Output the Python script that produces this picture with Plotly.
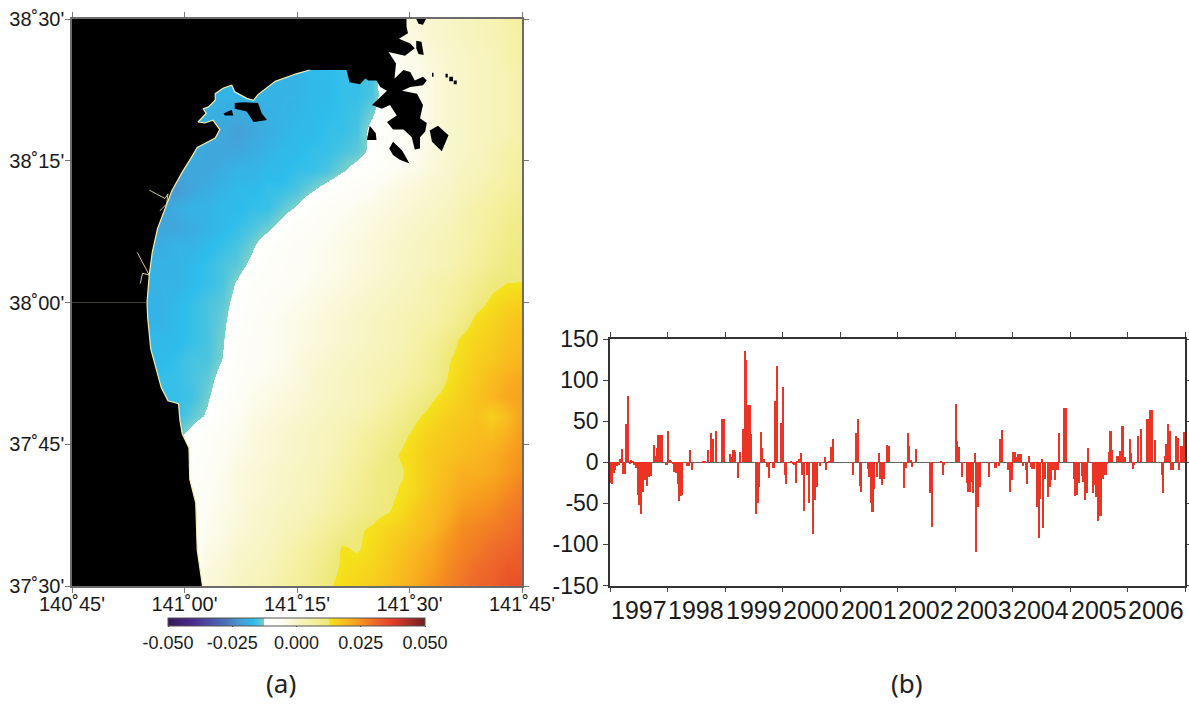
import plotly.graph_objects as go

# ---------- Panel (a) data ----------
# Grid: arc-minutes east of 140 deg 45', arc-minutes north of 37 deg 30'
lon_min = list(range(0, 62, 2))
L = -16
sst_rows = [
 [L,L,L,L,L,L,L,L,L,L,L,L,L,L,L,L,L,L,L,L,L,-6,-3,-2,-1,0,1,2,3,5,7],
 [L,L,L,L,L,L,L,L,L,L,L,L,L,L,L,L,L,L,L,L,L,-7,-4,-3,-1,0,1,2,3,4,6],
 [L,L,L,L,L,L,L,L,L,L,L,L,L,L,L,L,L,L,L,L,L,-8,-5,-4,-2,-1,0,1,2,4,6],
 [L,L,L,L,L,L,L,L,L,-17,-17,-17,-18,-18,-18,-18,-17,-17,-16,-16,-15,-8,-6,-5,-3,-1,0,1,2,3,5],
 [L,L,L,L,L,L,L,L,L,-18,-18,-18,-18,-18,-18,-18,-17,-17,-16,-16,-15,-9,-7,-5,-3,-1,0,1,2,3,5],
 [-18,-18,-18,-18,-18,-18,-18,-18,-18,-19,-20,-21,-20,-19,-18,-17,-17,-16,-16,-15,-11,-9,-8,-6,-3,-1,0,1,2,3,5],
 [-18,-18,-18,-18,-18,-18,-18,-18,-19,-20,-20,-20,-19,-18,-17,-17,-16,-16,-15,-14,-11.5,-9,-7,-5,-3,-1,0,1,3,5,6],
 [-18,-18,-18,-18,-18,-18,-19,-20,-20,-20,-19,-18,-18,-17,-17,-16,-16,-15,-13,-11,-9,-7,-5,-4,-2,-1,1,2,3,5,7],
 [-20,-20,-20,-20,-20,-20,-21,-22,-20,-19,-18,-17,-17,-16,-16,-15,-13,-11,-9,-7,-6,-4,-3,-2,-1,0,2,3,5,6,8],
 [-20,-20,-20,-20,-20,-20,-20,-19,-18,-18,-17,-17,-16,-16,-14,-12,-9,-7,-6,-5,-4,-3,-2,-1,0,1,3,5,6,8,9],
 [-20,-20,-20,-20,-20,-20,-20,-20,-19,-18,-17,-16,-15,-13.5,-11,-8,-7,-6,-5,-4,-3,-2,-1,0,1,2,4,5,7,9,10],
 [-19,-19,-19,-19,-19,-19,-19,-18,-18,-17,-16,-15,-13,-10,-8,-7,-6,-5,-4,-3,-2,-1,0,1,2,3,4,6,8,10,11],
 [-18,-18,-18,-18,-18,-18,-18,-18,-17,-16,-15,-14,-11.5,-9,-8,-7,-6,-5,-4,-3,-2,-1,0,1,2,3,5,7,9,11,12],
 [-18,-18,-18,-18,-18,-18,-18,-18,-17,-16,-15,-12,-9,-8,-7,-6,-5,-4,-3,-2,-1,0,1,2,4,5,7,9,11.5,12.6,12.6],
 [-18,-18,-18,-18,-18,-18,-18,-17,-16,-15,-14,-11,-8,-7,-6,-5,-4,-3,-2,-1,0,1,2,3,4,6,8,11,13.5,15,16],
 [-18,-18,-18,-18,-18,-18,-18,-17,-16,-15,-13.5,-10,-8,-6,-5,-4,-3,-2,-1,0,1,2,3,4,5,7,10,14,15,17,18],
 [-17,-17,-17,-17,-17,-17,-17,-17,-16,-15,-13,-9,-7,-6,-5,-4,-3,-2,-1,0,1,2,3,5,7,10,13.5,15,16,18,19],
 [-17,-17,-17,-17,-17,-17,-17,-16,-15,-15,-12.5,-9,-7,-6,-5,-3,-2,-1,0,1,2,3,4,6,8,12,14,16,17,19,20],
 [-16,-16,-16,-16,-16,-16,-16,-16,-15,-14,-11,-8,-6,-5,-4,-3,-1,0,1,2,3,4,5,7,9,12.5,15,17,19,21,22],
 [-16,-16,-16,-16,-16,-16,-16,-16,-15.5,-13,-10,-7,-5,-4,-3,-2,-1,0,1,2,3,5,7,9,12,14,16,18,20,22,23],
 [-16,-16,-16,-16,-16,-16,-16,-16,-14,-12,-9,-6,-4,-3,-2,-1,0,1,2,3,5,7,9,12,14,16,17,18,16,19,23],
 [-14,-14,-14,-14,-14,-14,-14,-13.5,-11,-8,-6,-5,-3,-2,-1,0,1,2,3,5,7,9,11.5,14,16,17,18,19,19,21,24],
 [-10,-10,-10,-10,-10,-10,-10,-10,-10,-8,-6,-4,-3,-2,-1,0,1,2,4,6,8,11,13,15,17,18,19,20,21,23,25],
 [-9,-9,-9,-9,-9,-9,-9,-9,-9,-7,-5,-3,-2,-1,0,1,2,3,5,7,10,11.5,12.2,15,17,19,21,21,22,24,26],
 [-8,-8,-8,-8,-8,-8,-8,-8,-8,-6,-5,-3,-2,-1,0,1,2,4,6,8,10,11.5,13,15,18,20,22,23,24,26,28],
 [-8,-8,-8,-8,-8,-8,-8,-8,-8,-6,-4,-3,-1,0,1,2,3,5,7,9,11,12,14,17,19,21,24,25,26,28,29],
 [-8,-8,-8,-8,-8,-8,-8,-8,-8,-5,-4,-2,-1,0,2,3,5,7,9,12,13,15,16,18,20,23,26,27,28,29,31],
 [-8,-8,-8,-8,-8,-8,-8,-8,-8,-4,-3,-1,0,1,3,5,7,9,13,12,14,16,18,20,22,25,27,28,30,31,32],
 [-8,-8,-8,-8,-8,-8,-8,-8,-8,-3,-2,0,1,2,4,6,8,11,13,14,15,17,19,21,23,26,28,30,31,33,33],
 [-7,-7,-7,-7,-7,-7,-7,-7,-7,-2,-1,1,2,3,5,7,9,12,13.5,15,16,18,20,22,25,27,29,31,32,34,35],
]
lat_rows = [60, 58, 56, 54, 52, 48, 46, 44, 42, 40, 38, 36, 34, 32, 30, 28, 26, 24, 22, 20, 18, 16, 14, 12, 10, 8, 6, 4, 2, 0]

coast_north_x = [44.6,44.6,44.8,43.6,45.1,45.7,44.4,42.2,43.2,43.0,44.2,45.1,45.7,46.8,47.3,46.8,45.1,44.0,46.0,46.8,46.4,47.3,47.1,46.4,46.4,45.7,45.3,44.2,42.8,42.0,43.3,42.4,41.3,40.0,42.0,41.1,40.6,39.5,39.1,38.4,37.0,36.6]
coast_north_y = [60,59.2,58.5,57.9,57.4,56.9,56.1,56.5,55.3,53.7,54.6,54.4,53.5,53.9,53.5,53.0,52.8,52.4,52.1,50.9,49.5,49.0,48.1,47.5,46.3,46.2,47.5,48.3,48.3,49.1,49.8,50.9,50.5,50.9,52.4,52.8,53.5,53.5,53.7,53.1,53.3,54.6]
coast_south_x = [31.7,29.9,27.1,24.8,24.2,23.3,21.7,21.3,20.2,19.1,19.1,18.2,17.5,17.9,16.8,17.7,18.8,19.7,19.1,18.4,16.7,15.8,14.7,13.3,12.4,11.4,10.7,10.3,10.0,10.1,10.5,11.2,11.9,12.8,14.2,14.4,14.7,15.6,15.7,16.5,16.7,17.4]
coast_south_y = [54.6,54.2,53.4,52.0,51.4,51.6,52.3,53.0,52.7,52.1,51.4,50.7,50.5,50.0,49.1,49.0,49.3,48.3,47.4,47.1,46.4,45.2,43.8,41.8,39.9,37.8,35.3,32.9,30.0,28.3,25.1,23.0,21.0,19.6,19.3,17.5,16.1,14.6,11.3,8.8,3.8,0]
island_x = [21.7,22.8,24.8,25.3,26.0,24.2,23.3,21.7,None,20.2,21.3,21.5,20.4,None,47.7,48.8,50.2,49.3,48.0,None,39.3,39.7,40.5,40.6,None,42.3,42.8,44.0,45.0,43.7,42.8,None,45.9,46.6,46.9,46.2,45.9,None,45.9,47.2,46.8,46.2,None,50.3,50.8,50.8,50.3,None,50.9,51.3,51.3,50.9,None,49.8,50.1,50.1,49.8,None,48.0,48.2,48.2,48.0]
island_y = [51.1,51.2,51.1,50.0,49.3,49.1,50.2,50.5,None,50.0,50.4,49.8,49.8,None,48.2,48.7,47.7,46.0,47.0,None,47.2,48.7,47.9,47.2,None,46.3,47.0,46.1,44.7,45.1,45.6,None,57.7,57.6,56.2,56.3,56.9,None,60,60,59.4,59.5,None,53.9,53.9,53.4,53.4,None,53.5,53.5,53.1,53.1,None,54.2,54.2,53.8,53.8,None,54.3,54.3,53.9,53.9]
river_x = [10.3,12.4,12.8,12.6,11.7,None,8.7,9.6,10.3,9.4,9.1]
river_y = [41.9,41.0,41.5,40.4,39.7,None,35.3,33.9,32.9,33.1,32.0]

map_x_ticks = [0, 15, 30, 45, 60]
map_x_labels = ["140˚45'", "141˚00'", "141˚15'", "141˚30'", "141˚45'"]
map_y_ticks = [0, 15, 30, 45, 60]
map_y_labels = ["37˚30'", "37˚45'", "38˚00'", "38˚15'", "38˚30'"]
cbar_ticks = [-0.05, -0.025, 0.0, 0.025, 0.05]
cbar_labels = ["-0.050", "-0.025", "0.000", "0.025", "0.050"]

# ---------- Panel (b) data (ten-day bars) ----------
years = [1997, 1998, 1999, 2000, 2001, 2002, 2003, 2004, 2005, 2006]
v1997 = [-25,-26,-13,-10,-5,-3,4,16,-14,-14,46,81,-2,3,2,-3,-7,-40,-52,-63,-36,-21,-21,-29,-18,-17,0,21,8,17,33,33,33,0,0,-3]
v1998 = [38,3,2,-1,-12,-13,-26,-47,-41,-40,0,0,-4,-5,15,-9,0,0,0,0,0,0,1,1,0,15,0,35,28,0,38,0,0,0,53,53]
v1999 = [0,0,0,10,6,15,13,0,-19,12,0,40,136,124,70,70,34,0,0,-63,-50,-30,37,17,4,0,-6,-19,0,0,-7,74,117,0,0,48]
v2000 = [92,-15,-26,0,0,1,-1,-3,-25,2,4,11,-15,-59,0,-15,-49,0,0,-87,-46,-30,0,-5,0,0,6,-9,0,2,18,28,0,0,0,0]
v2001 = [0,0,0,0,0,0,0,0,-15,0,35,53,-29,-36,0,0,0,-8,-18,-50,-61,-33,0,-18,11,-20,-28,-20,0,21,20,0,0,0,0,0]
v2002 = [0,0,0,0,-31,-7,36,20,3,-6,0,16,0,0,0,0,0,0,0,0,-38,-79,0,0,0,0,0,2,-15,-3,0,0,0,0,0,0]
v2003 = [71,26,18,0,-18,0,0,-25,-36,-36,-24,-38,11,-109,-55,-30,0,0,0,0,0,-18,0,0,0,-7,0,-4,28,39,0,0,0,-10,-36,-22]
v2004 = [12,12,7,10,10,10,-4,0,-10,-26,8,-6,-8,-8,0,-55,-92,-45,4,-80,-20,0,-42,-30,-22,-10,-22,-10,-10,35,0,0,66,66,0,0]
v2005 = [0,0,-20,-41,-40,-25,0,-17,-24,-46,-38,17,0,0,-38,-28,-42,-71,-66,-65,-20,-15,-16,-2,12,38,15,0,0,8,8,14,44,44,7,0]
v2006 = [0,28,11,-8,-3,0,32,0,40,0,0,0,53,53,64,64,0,27,0,0,0,-16,-38,8,22,47,38,-10,-10,0,32,30,-10,20,20,37]
all_values = [v1997, v1998, v1999, v2000, v2001, v2002, v2003, v2004, v2005, v2006]

bar_x = []
bar_y = []
for yr, vals in zip(years, all_values):
    for k, v in enumerate(vals):
        bar_x.append(yr + (k + 0.5) / 36)
        bar_y.append(v)

W, H = 1189, 704
def px(v): return v / W
def py(v): return 1 - v / H

colorscale = [
 [0.0, "#33195c"], [0.10, "#4d2e8c"], [0.22, "#4a6eb5"], [0.28, "#4a9ad2"], [0.335, "#2dbdec"],
 [0.36, "#5cc8d8"], [0.3749, "#7ad0c8"], [0.375, "#ffffff"], [0.44, "#fdfdf4"], [0.50, "#f8f5c8"],
 [0.56, "#f5f0a0"], [0.6249, "#eee878"], [0.625, "#f5e31c"], [0.70, "#f9b61f"], [0.75, "#f6931e"],
 [0.80, "#ef6c2a"], [0.875, "#e43c28"], [1.0, "#6e1f1f"],
]

font_name = "Liberation Sans"
fig = go.Figure()
fig.add_trace(go.Heatmap(
    x=lon_min, y=lat_rows, z=[[c / 1000 for c in r] for r in sst_rows], zsmooth="best",
    colorscale=colorscale, zmin=-0.05, zmax=0.05, xaxis="x", yaxis="y", hoverinfo="skip",
    colorbar=dict(orientation="h", x=px(296.5), xanchor="center", y=py(617.5), yanchor="top",
                  len=257, lenmode="pixels", thickness=8, xpad=0, ypad=0,
                  outlinecolor="#555", outlinewidth=1, ticks="outside", ticklen=1, tickcolor="#444",
                  tickvals=cbar_ticks, ticktext=cbar_labels,
                  tickfont=dict(family=font_name, size=18, color="#1a1a1a")),
))
land_x = [0] + coast_north_x + coast_south_x + [0, 0]
land_y = [60] + coast_north_y + coast_south_y + [0, 60]
fig.add_trace(go.Scatter(x=land_x, y=land_y, mode="lines", fill="toself", fillcolor="black",
                         line=dict(width=0, color="black"), xaxis="x", yaxis="y", hoverinfo="skip", showlegend=False))
fig.add_trace(go.Scatter(x=island_x, y=island_y, mode="lines", fill="toself", fillcolor="black",
                         line=dict(width=0, color="black"), xaxis="x", yaxis="y", hoverinfo="skip", showlegend=False))
fig.add_trace(go.Scatter(x=coast_south_x, y=coast_south_y, mode="lines",
                         line=dict(width=1.2, color="#f8eeb0"), xaxis="x", yaxis="y", hoverinfo="skip", showlegend=False))
fig.add_trace(go.Scatter(x=river_x, y=river_y, mode="lines",
                         line=dict(width=0.9, color="#e8dfa8"), xaxis="x", yaxis="y", hoverinfo="skip", showlegend=False))
fig.add_trace(go.Scatter(x=[0, 10], y=[30, 30], mode="lines",
                         line=dict(width=0.7, color="#5a5a3c"), xaxis="x", yaxis="y", hoverinfo="skip", showlegend=False))

fig.add_trace(go.Bar(x=bar_x, y=bar_y, width=1 / 36, marker=dict(color="#ec3424", line=dict(width=0)),
                     xaxis="x2", yaxis="y2", hoverinfo="skip", showlegend=False))

annotations = [dict(x=yr + 0.5, y=py(610), xref="x2", yref="paper", text=str(yr), showarrow=False,
                    font=dict(family=font_name, size=25, color="#1a1a1a"), xanchor="center", yanchor="middle")
               for yr in years]
annotations += [
    dict(x=px(281), y=py(683), xref="paper", yref="paper", text="(a)", showarrow=False,
         font=dict(family="Noto Sans", size=26, color="#222"), xanchor="center", yanchor="middle"),
    dict(x=px(907), y=py(683), xref="paper", yref="paper", text="(b)", showarrow=False,
         font=dict(family="Noto Sans", size=26, color="#222"), xanchor="center", yanchor="middle"),
]

map_axis = dict(showgrid=False, zeroline=False, mirror="ticks", showline=True, linecolor="#6b6b6b", linewidth=1.5,
                ticks="outside", ticklen=5, tickcolor="#777", tickfont=dict(family=font_name, size=20, color="#1a1a1a"))
fig.update_layout(
    width=W, height=H, margin=dict(l=0, r=0, t=0, b=0, autoexpand=False), paper_bgcolor="white", plot_bgcolor="white",
    showlegend=False, bargap=0, annotations=annotations,
    xaxis=dict(domain=[px(72), px(522)], range=[0, 60], anchor="y", tickmode="array", ticklabelstandoff=-6,
               tickvals=map_x_ticks, ticktext=map_x_labels, **map_axis),
    yaxis=dict(domain=[py(586), py(19)], range=[0, 60], anchor="x", tickmode="array", ticklabelstandoff=-3,
               tickvals=map_y_ticks, ticktext=map_y_labels, **map_axis),
    xaxis2=dict(domain=[px(610), px(1185)], range=[1997, 2007], anchor="y2", tickmode="array",
                tickvals=years + [2007], ticktext=[""] * 11, showgrid=False, zeroline=False,
                mirror="ticks", showline=True, linecolor="#333", linewidth=1.5, ticks="outside", ticklen=5, tickcolor="#444"),
    yaxis2=dict(domain=[py(585.5), py(339)], range=[-150, 150], anchor="x2",
                tickmode="array", tickvals=[-150, -100, -50, 0, 50, 100, 150],
                ticktext=["-150", "-100", "-50", "0", "50", "100", "150"],
                showgrid=False, zeroline=True, zerolinecolor="#666", zerolinewidth=1,
                mirror="ticks", showline=True, linecolor="#333", linewidth=1.5, ticks="outside", ticklen=5, tickcolor="#444",
                tickfont=dict(family=font_name, size=23, color="#1a1a1a")),
)
fig.write_html("out.html", config={"displayModeBar": False}, post_script="document.body.style.margin='0';")
